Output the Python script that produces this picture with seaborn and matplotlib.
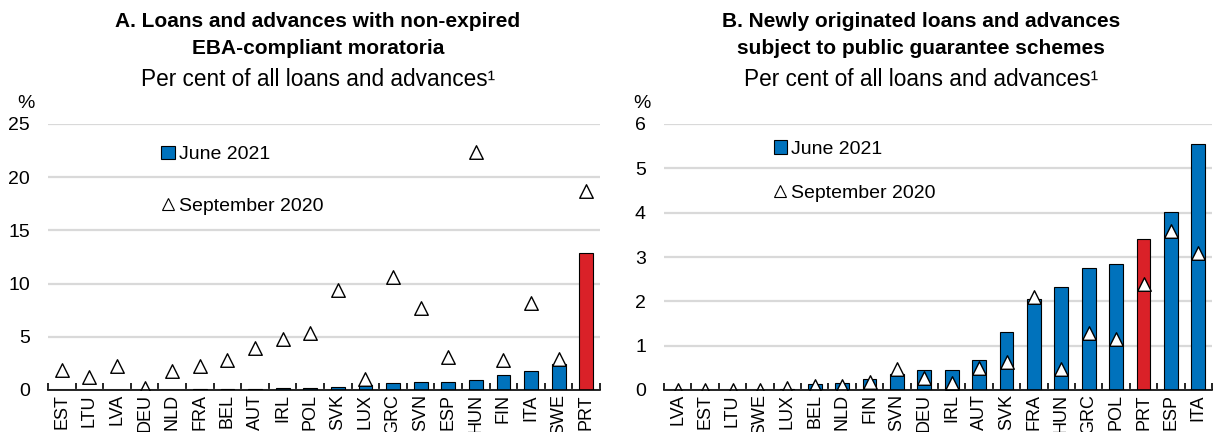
import matplotlib
matplotlib.use("Agg")
import matplotlib.pyplot as plt
import seaborn as sns
import pandas as pd
from matplotlib.patches import Patch
from matplotlib.lines import Line2D
from matplotlib.ticker import FixedLocator

# ---------------- data ----------------
a_countries = ["EST", "LTU", "LVA", "DEU", "NLD", "FRA", "BEL", "AUT", "IRL", "POL",
               "SVK", "LUX", "GRC", "SVN", "ESP", "HUN", "FIN", "ITA", "SWE", "PRT"]
a_jun2021 = [0.0, 0.0, 0.0, 0.0, 0.03, 0.1, 0.1, 0.1, 0.15, 0.2,
             0.3, 0.5, 0.62, 0.72, 0.78, 0.97, 1.38, 1.79, 2.45, 12.9]
a_sep2020 = [1.84, 1.19, 2.25, 0.16, 1.78, 2.25, 2.78, 3.97, 4.78, 5.4,
             9.4, 1.06, 10.6, 7.7, 3.1, 22.4, 2.8, 8.15, 2.94, 18.75]

b_countries = ["LVA", "EST", "LTU", "SWE", "LUX", "BEL", "NLD", "FIN", "SVN", "DEU",
               "IRL", "AUT", "SVK", "FRA", "HUN", "GRC", "POL", "PRT", "ESP", "ITA"]
b_jun2021 = [0.0, 0.0, 0.0, 0.0, 0.02, 0.14, 0.15, 0.25, 0.37, 0.44,
             0.45, 0.68, 1.3, 2.06, 2.33, 2.75, 2.85, 3.4, 4.02, 5.56]
b_sep2020 = [0.0, 0.0, 0.0, 0.0, 0.04, 0.09, 0.08, 0.19, 0.47, 0.27,
             0.15, 0.49, 0.64, 2.1, 0.47, 1.29, 1.15, 2.38, 3.59, 3.1]

a_title = "A. Loans and advances with non-expired\nEBA-compliant moratoria"
b_title = "B. Newly originated loans and advances\nsubject to public guarantee schemes"
subtitle = "Per cent of all loans and advances\u00b9"
a_yticks = [0, 5, 10, 15, 20, 25]
b_yticks = [0, 1, 2, 3, 4, 5, 6]
highlight = "PRT"
legend_labels = ["June 2021", "September 2020"]

BLUE = "#0072BC"
RED = "#DA2128"
GRID = "#D9D9D9"

sns.set_theme(style="white")
plt.rcParams["font.family"] = ["Liberation Sans", "DejaVu Sans"]
plt.rcParams["text.color"] = "black"
plt.rcParams["xtick.color"] = "black"
plt.rcParams["ytick.color"] = "black"

fig = plt.figure(figsize=(12.13, 4.32), dpi=100)
ax_a = fig.add_axes([48 / 1213, 1 - 390 / 432, (600 - 48) / 1213, 266 / 432])
ax_b = fig.add_axes([664 / 1213, 1 - 390 / 432, (1212 - 664) / 1213, 266 / 432])


def panel(ax, countries, jun, sep, yticks, leg_anchor, leg_spacing):
    df = pd.DataFrame({"country": countries, "jun": jun, "sep": sep})
    pal = {c: (RED if c == highlight else BLUE) for c in countries}
    sns.barplot(data=df, x="country", y="jun", hue="country", palette=pal,
                order=countries, width=0.5, edgecolor="black", linewidth=0.8,
                saturation=1, legend=False, ax=ax, zorder=2)
    sns.scatterplot(data=df, x="country", y="sep", marker="^", s=95,
                    color="white", edgecolor="black", linewidth=1.0,
                    ax=ax, zorder=4, legend=False)
    ax.set_xlim(-0.5, len(countries) - 0.5)
    ax.set_ylim(yticks[0], yticks[-1])
    ax.set_yticks(yticks)
    ax.yaxis.grid(True, color=GRID, linewidth=1.6, zorder=0)
    ax.set_axisbelow(True)
    for s in ["left", "right", "top"]:
        ax.spines[s].set_visible(False)
    ax.spines["bottom"].set_color("black")
    ax.spines["bottom"].set_linewidth(1.2)
    ax.spines["bottom"].set_zorder(5)
    ax.set_xlabel("")
    ax.set_ylabel("")
    ax.tick_params(axis="y", length=0, pad=13, labelsize=14, labelcolor="black")
    ax.tick_params(axis="x", which="major", length=0, pad=3, labelsize=13,
                   labelrotation=90, labelcolor="black")
    ax.xaxis.set_minor_locator(FixedLocator([i - 0.5 for i in range(len(countries) + 1)]))
    ax.tick_params(axis="x", which="minor", direction="in", length=5, width=1.2,
                   color="black", bottom=True)
    ax.text(-0.04, 1.045, "%", transform=ax.transAxes, ha="center", va="bottom",
            fontsize=14, color="black")
    handles = [Patch(facecolor=BLUE, edgecolor="black", linewidth=0.8),
               Line2D([], [], marker="^", linestyle="none", markersize=9,
                      markerfacecolor="white", markeredgecolor="black", markeredgewidth=0.8)]
    leg = ax.legend(handles, legend_labels, loc="upper left", bbox_to_anchor=leg_anchor,
                    frameon=False, fontsize=14, handlelength=0.7, handleheight=0.7,
                    handletextpad=0.2, labelspacing=leg_spacing, borderpad=0, borderaxespad=0)
    for t in leg.get_texts():
        t.set_color("black")


panel(ax_a, a_countries, a_jun2021, a_sep2020, a_yticks, (0.205, 0.919), 1.75)
panel(ax_b, b_countries, b_jun2021, b_sep2020, b_yticks, (0.2, 0.939), 1.35)

fig.text(318 / 1213, 1 - 35 / 432, a_title, ha="center", va="center", fontsize=15,
         fontweight="bold", linespacing=1.5, color="black")
fig.text(318 / 1213, 1 - 80 / 432, subtitle, ha="center", va="center", fontsize=16.3,
         color="black")
fig.text(921 / 1213, 1 - 35 / 432, b_title, ha="center", va="center", fontsize=15,
         fontweight="bold", linespacing=1.5, color="black")
fig.text(921 / 1213, 1 - 80 / 432, subtitle, ha="center", va="center", fontsize=16.3,
         color="black")

fig.savefig("out.png", dpi=100)
